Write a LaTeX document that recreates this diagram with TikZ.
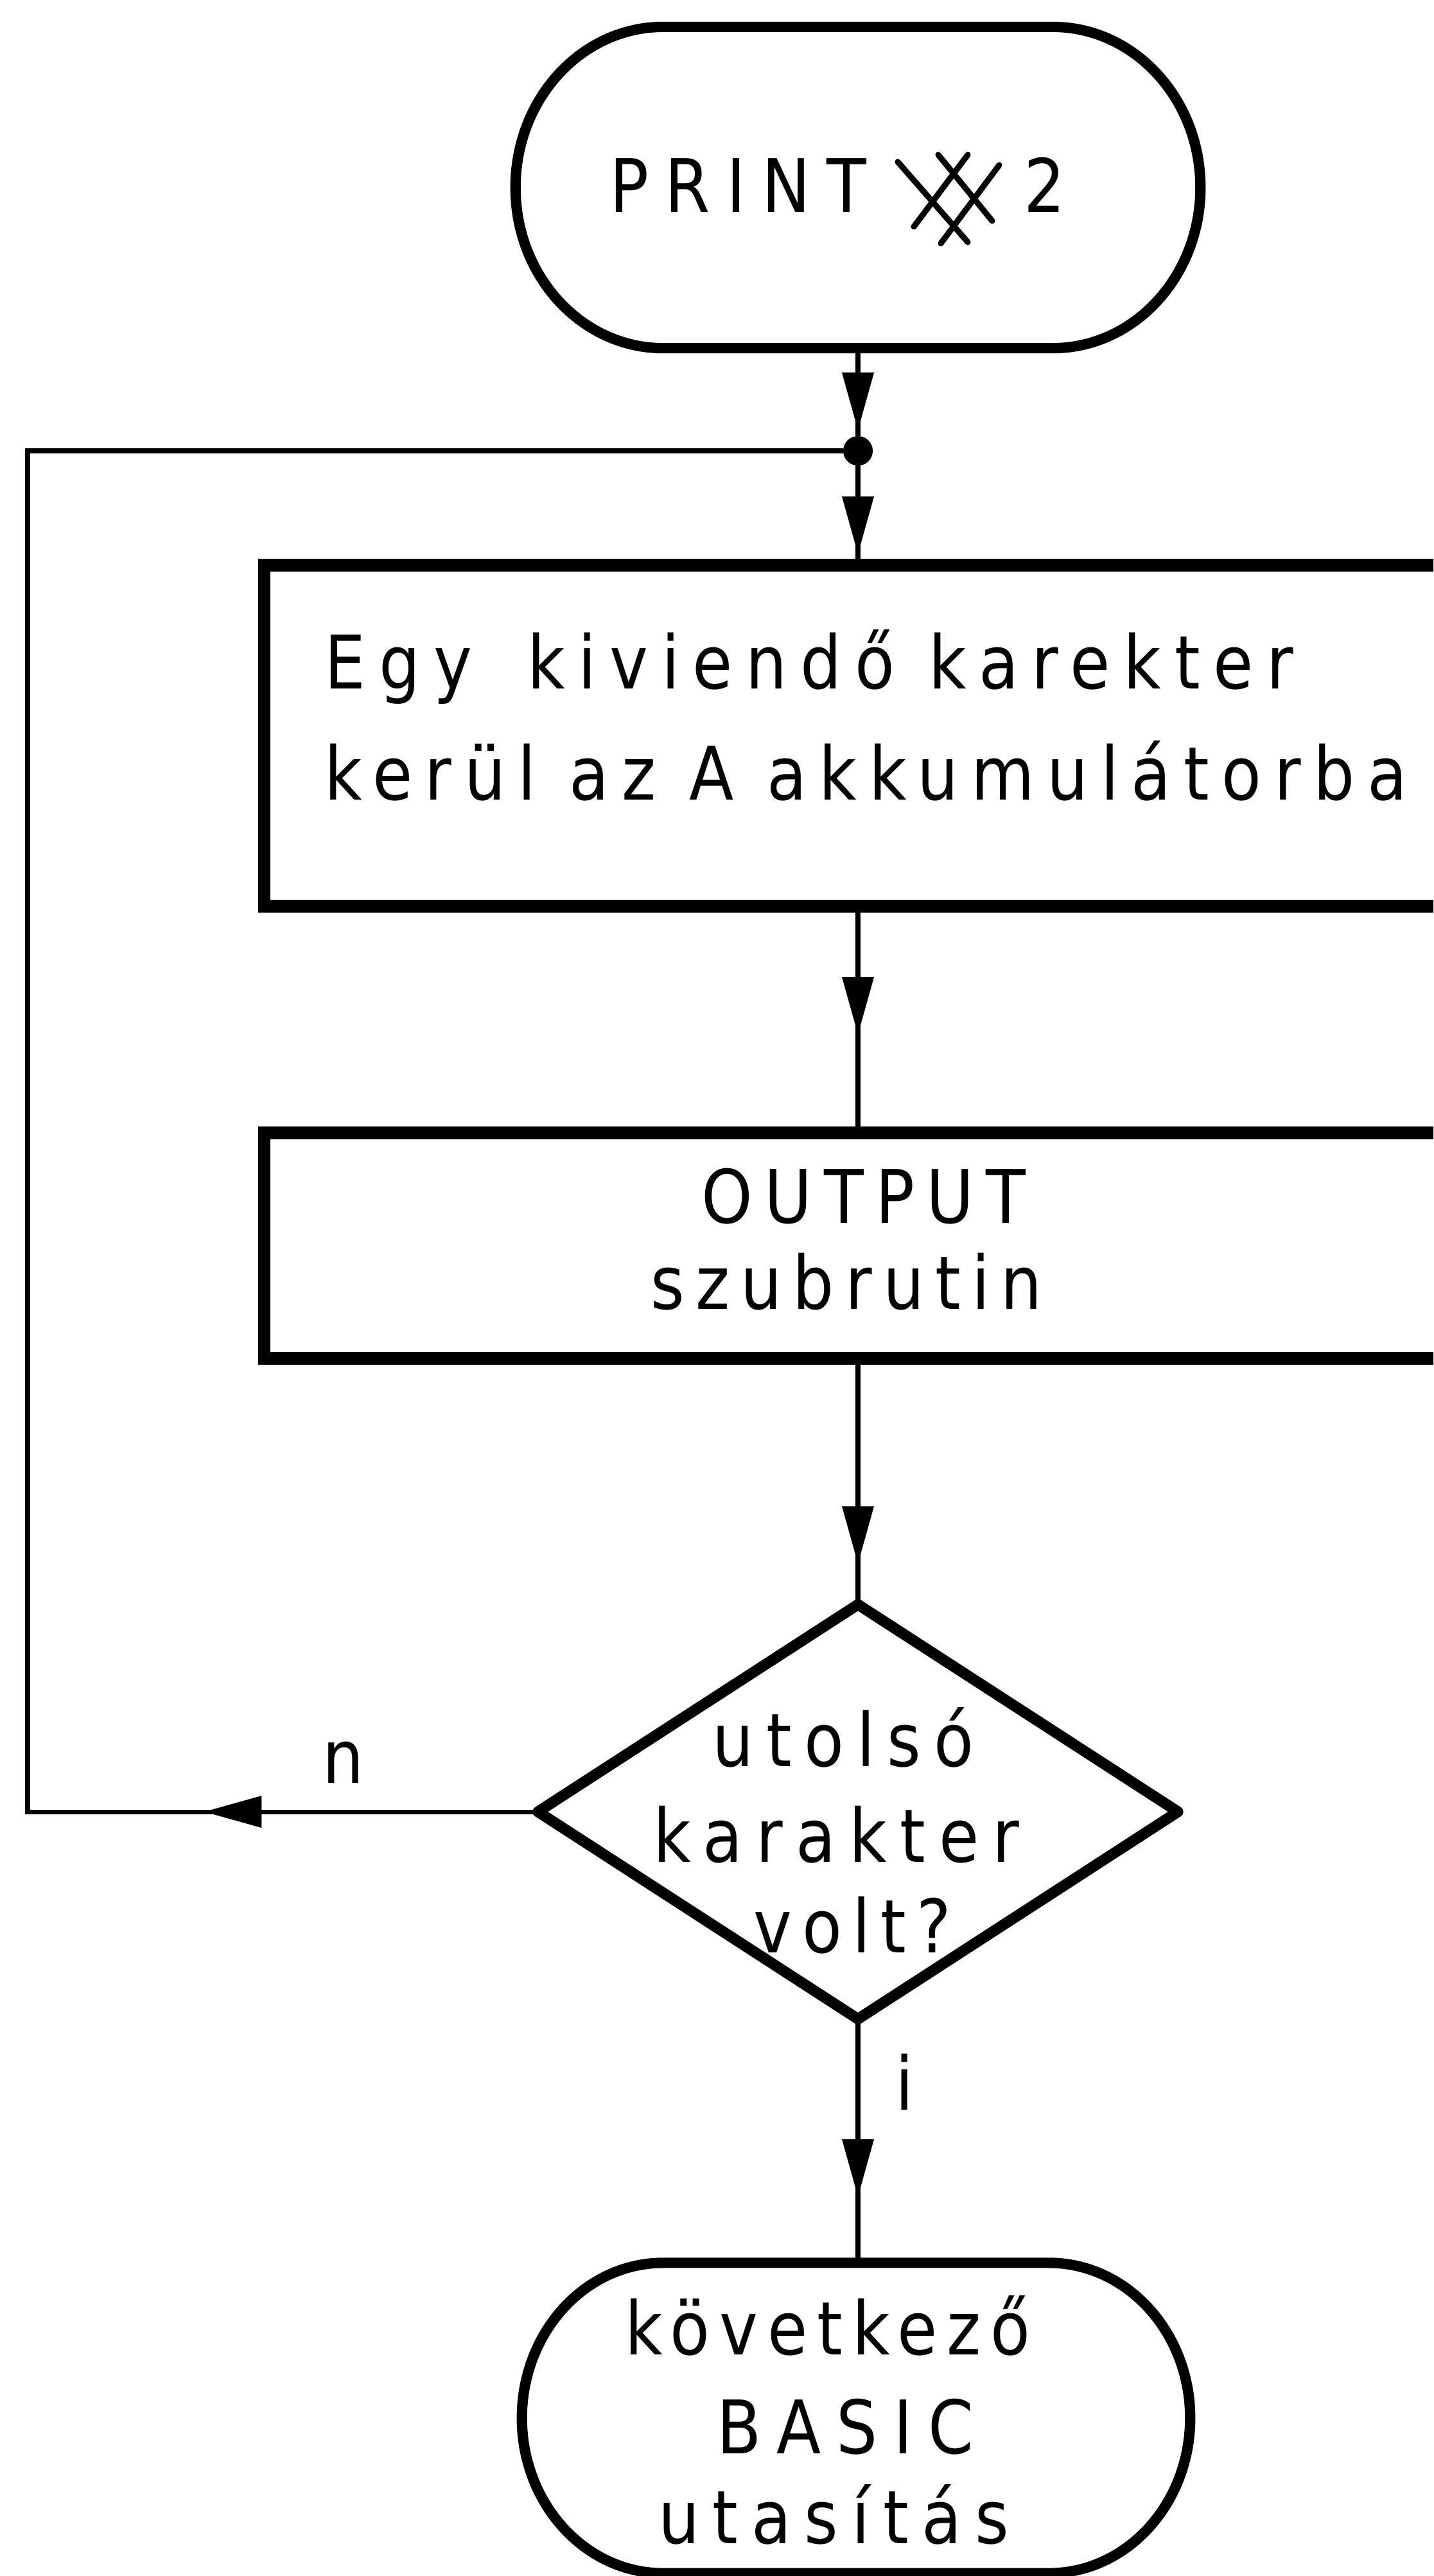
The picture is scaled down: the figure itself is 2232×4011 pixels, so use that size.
\documentclass[tikz,border=0pt]{standalone}
\usepackage{fontspec}
\newfontfamily\lettering[FakeStretch=0.88,LetterSpace=15]{DejaVu Sans}
\newcommand\trk[1]{\addfontfeature{LetterSpace=#1}}
\usetikzlibrary{arrows.meta,shapes.geometric,decorations.markings}

\tikzset{
  conn/.style={line width=2pt},
  boxstyle/.style={draw, rectangle, line width=5.6pt, inner sep=0pt, outer sep=0pt},
  termstyle/.style={rectangle, inner sep=0pt, outer sep=0pt},
  termline/.style={line width=4.6pt},
  txt/.style={font=\lettering\fontsize{32.7pt}{39pt}\selectfont, inner sep=0pt, anchor=base},
  symb/.style={line width=2.6pt, line cap=round},
  midarrow/.style={postaction={decorate}, decoration={markings,
      mark=at position #1 with {\arrow{Triangle[length=0.9cm,width=0.48cm]}}}},
}

\begin{document}
\begin{tikzpicture}[x=0.01cm, y=-0.01cm]
  \path[use as bounding box] (0,0) rectangle (2232,4011);
  \clip (0,0) rectangle (2232,4011);
  \fill[white] (0,0) rectangle (2232,4011);

  % start terminal
  \node[termstyle, minimum width=10.66cm, minimum height=5.0cm] (t1) at (1336,292) {};
  \draw[termline] ([xshift=2.3cm]t1.north west) -- ([xshift=-2.3cm]t1.north east)
    arc[start angle=90, end angle=-90, x radius=2.3cm, y radius=2.5cm]
    -- ([xshift=2.3cm]t1.south west)
    arc[start angle=270, end angle=90, x radius=2.3cm, y radius=2.5cm] -- cycle;
  \node[txt, anchor=base west] (t1a) at (949,330) {\trk{22}PRINT};
  \node[txt, anchor=base west] (t1b) at (1594,330) {2};
  % the crossed space mark between PRINT and 2
  \draw[symb] (1398,252) -- (1507,377);
  \draw[symb] (1461,241) -- (1545,344);
  \draw[symb] (1507,241) -- (1423,353);
  \draw[symb] (1556,257) -- (1465,379);

  % junction of the loop
  \node[circle, fill, inner sep=0pt, outer sep=0pt, minimum size=0.46cm] (dot) at (1336,702) {};

  % process boxes (open to the right)
  \node[boxstyle, minimum width=18.88cm, minimum height=5.31cm] (box1) at (1356,1145.5) {};
  \node[txt, anchor=base west] (b1a) at (505,1072) {\trk{18}Egy\hspace{0.75em}kiviendő karekter};
  \node[txt, anchor=base west] (b1b) at (505,1245) {\trk{17}kerül az A akkumulátorba};

  \node[boxstyle, minimum width=18.88cm, minimum height=3.51cm] (box2) at (1356,1939.5) {};
  \node[txt] (b2a) at (1345,1904) {\trk{16}OUTPUT};
  \node[txt] (b2b) at (1318,2038) {szubrutin};

  % decision
  \node[diamond, draw, line width=4.8pt, line join=round, inner sep=0pt, outer sep=0pt,
        minimum width=9.96cm, minimum height=6.45cm] (dec) at (1336,2821) {};
  \node[txt] (d1) at (1313,2750) {\trk{17}utolsó};
  \node[txt] (d2) at (1302,2899) {\trk{18}karakter};
  \node[txt] (d3) at (1327,3040) {\trk{14}volt?};

  % end terminal
  \node[termstyle, minimum width=10.40cm, minimum height=4.83cm] (t2) at (1333,3765) {};
  \draw[termline] ([xshift=2.2cm]t2.north west) -- ([xshift=-2.2cm]t2.north east)
    arc[start angle=90, end angle=-90, x radius=2.2cm, y radius=2.415cm]
    -- ([xshift=2.2cm]t2.south west)
    arc[start angle=270, end angle=90, x radius=2.2cm, y radius=2.415cm] -- cycle;
  \node[txt] (t2a) at (1289,3666) {\trk{13}következő};
  \node[txt] (t2b) at (1316,3820) {\trk{21}BASIC};
  \node[txt] (t2c) at (1298,3960) {\trk{18}utasítás};

  % connectors
  \draw[conn, midarrow=1.28cm] (t1.south) -- (dot);
  \draw[conn, midarrow=1.38cm] (dot) -- (dot |- box1.north);
  \draw[conn, midarrow=2.0cm] (box1.south -| dot) -- (box2.north -| dot);
  \draw[conn, midarrow=3.2cm] (box2.south -| dec.north) -- (dec.north);
  \draw[conn, midarrow=2.77cm] (dec.south) -- (dec.south |- t2.north);
  \coordinate (loopc) at (43,2821);
  \draw[conn, midarrow=5.2cm] (dec.west) -- (loopc) |- (dot);

  % branch labels
  \node[txt] (ln) at (535,2776) {n};
  \node[txt] (li) at (1409,3285) {i};
\end{tikzpicture}
\end{document}
